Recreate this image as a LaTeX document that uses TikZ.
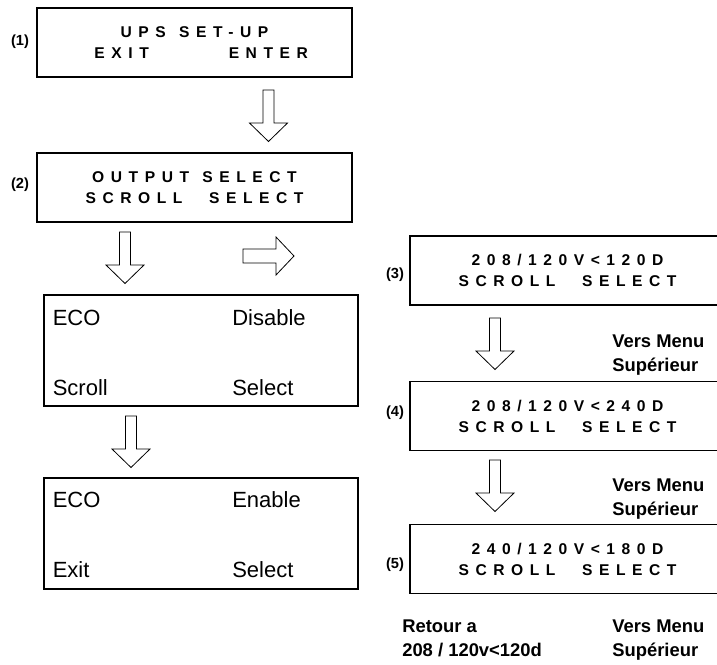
\documentclass[tikz,border=0pt]{standalone}
\usepackage{fontspec}
\setmainfont{Liberation Sans}
\newfontfamily\lcdfont{Liberation Sans}[LetterSpace=42]
\begin{document}
\begin{tikzpicture}[x=0.75pt,y=-0.75pt,
    lcdbox/.style={draw, line width=1.1pt, minimum width=236.25pt, minimum height=51.75pt,
        align=center, inner sep=0pt, font=\lcdfont\bfseries\fontsize{11.7}{15.75}\selectfont},
    ecobox/.style={draw, line width=1.4pt, minimum width=235.5pt, minimum height=83.25pt},
    ecotext/.style={anchor=base west, inner sep=0pt, font=\fontsize{16.5}{19}\selectfont},
    steplabel/.style={font=\bfseries\fontsize{11}{13}\selectfont, inner sep=0pt},
    menutext/.style={anchor=north west, align=left, inner sep=0pt,
        font=\bfseries\fontsize{13.8}{18}\selectfont},
    blockarrow/.style={draw, line width=0.6pt, fill=white, line join=miter},
    pics/downarrow/.style={code={
        \draw[blockarrow] (-5.5,0) -- (-5.5,33) -- (-19,33) -- (0,51.5)
            -- (19,33) -- (5.5,33) -- (5.5,0) -- cycle;}}
]
    \clip (0,0) rectangle (717,664);

    % Left column: set-up screens
    \node[lcdbox] (upsbox) at (194.5,42.5)
        {UPS\hspace{10pt}SET-UP\\\hspace*{10pt}EXIT\hspace{60pt}ENTER};
    \node[lcdbox] (outbox) at (194.5,187.5)
        {OUTPUT\hspace{10pt}SELECT\\SCROLL\hspace{20pt}SELECT};
    \node[steplabel] (lab1) at (20,42) {(1)};
    \node[steplabel] (lab2) at (20,185) {(2)};

    % ECO screens
    \node[ecobox] (ecodis) at (201,350.5) {};
    \node[ecotext] (ecodisA) at (52.5,325) {ECO};
    \node[ecotext] (ecodisB) at (232,325) {Disable};
    \node[ecotext] (ecodisC) at (52.5,395) {Scroll};
    \node[ecotext] (ecodisD) at (232,395) {Select};

    \node[ecobox] (ecoen) at (201,533.5) {};
    \node[ecotext] (ecoenA) at (52.5,507) {ECO};
    \node[ecotext] (ecoenB) at (232,507) {Enable};
    \node[ecotext] (ecoenC) at (52.5,577) {Exit};
    \node[ecotext] (ecoenD) at (232,577) {Select};

    % Right column: voltage screens
    \node[lcdbox] (volt3) at (567.5,270.5) {208/120V<120D\\SCROLL\hspace{20pt}SELECT};
    \node[lcdbox] (volt4) at (567.5,416) {208/120V<240D\\SCROLL\hspace{20pt}SELECT};
    \node[lcdbox] (volt5) at (567.5,559) {240/120V<180D\\SCROLL\hspace{20pt}SELECT};
    \node[steplabel] (lab3) at (395,275) {(3)};
    \node[steplabel] (lab4) at (395,413) {(4)};
    \node[steplabel] (lab5) at (395,565) {(5)};

    \node[menutext] (menu3) at (612,335) {Vers Menu\\Supérieur};
    \node[menutext] (menu4) at (612,479) {Vers Menu\\Supérieur};
    \node[menutext] (menu5) at (612,620) {Vers Menu\\Supérieur};
    \node[menutext] (retour) at (402,620) {Retour a\\208 / 120v<120d};

    % Block arrows
    \pic at (268.5,90) {downarrow};
    \pic at (125,232) {downarrow};
    \pic at (131,416) {downarrow};
    \pic at (495,318) {downarrow};
    \pic at (495,460) {downarrow};
    \draw[blockarrow] (243,249) -- (276,249) -- (276,237) -- (294,256)
        -- (276,275) -- (276,263) -- (243,263) -- cycle;
\end{tikzpicture}
\end{document}
